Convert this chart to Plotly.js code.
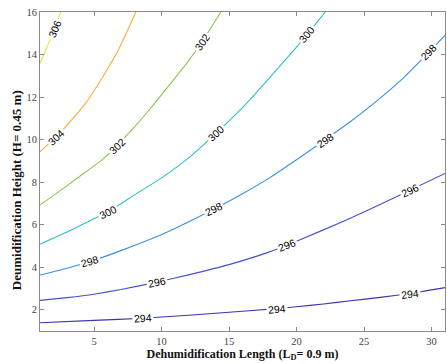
<!DOCTYPE html>
<html>
<head>
<meta charset="utf-8">
<script src="https://cdn.plot.ly/plotly-3.0.1.min.js"></script>
<style>html,body{margin:0;padding:0;background:#fff}#chart{width:447px;height:364px}</style>
</head>
<body>
<div id="chart"></div>
<script>
// Contour levels (temperature, K)
const levels = [294, 296, 298, 300, 302, 304, 306];

// Contour lines: L = dehumidification length, H = height
const L294 = [1, 5, 8.6, 12, 15, 18.5, 20, 22, 24, 26.2, 28.4, 31];
const H294 = [1.39, 1.50, 1.60, 1.74, 1.88, 2.05, 2.14, 2.27, 2.42, 2.58, 2.76, 3.04];

const L296 = [1, 3, 5, 7, 9.67, 12, 15, 18, 20, 23.7, 27.4, 31];
const H296 = [2.44, 2.57, 2.73, 2.95, 3.30, 3.64, 4.12, 4.72, 5.22, 6.22, 7.31, 8.41];

const L298 = [1, 3, 4.74, 7, 9.17, 11, 13.86, 16, 18, 20, 22.14, 24, 26.2, 28, 29.79, 31];
const H298 = [3.63, 3.95, 4.27, 4.78, 5.31, 5.82, 6.72, 7.45, 8.2, 9.05, 10.0, 10.85, 11.95, 12.95, 14.1, 14.9];

const L300 = [1, 3, 4.74, 6.04, 8, 10, 12.13, 14.05, 16, 18, 20, 20.79, 22.14];
const H300 = [5.08, 5.65, 6.2, 6.6, 7.4, 8.2, 9.2, 10.3, 11.5, 12.9, 14.35, 14.95, 16];

const L302 = [1, 2.5, 4, 5.6, 6.71, 8, 9.17, 10.5, 12, 13, 14.4];
const H302 = [6.92, 7.6, 8.3, 9.05, 9.72, 10.6, 11.45, 12.5, 13.7, 14.6, 16];

const L304 = [1, 2.2, 2.89, 4.37, 5.6, 6.83, 7.82, 8.1];
const H304 = [9.43, 10.13, 10.6, 11.7, 12.9, 14.25, 15.6, 16];

const L306 = [1, 1.55, 2.09, 2.3, 2.52];
const H306 = [13.59, 14.4, 15.2, 15.55, 16];

// Where the inline level labels sit (L positions)
const lab294 = [8.62, 18.54, 28.4];
const lab296 = [9.67, 19.28, 28.44];
const lab298 = [4.74, 13.86, 22.14, 29.79];
const lab300 = [6.04, 14.05, 20.79];
const lab302 = [6.71, 13.0];
const lab304 = [2.2];
const lab306 = [2.09];

// Axis ticks
const xTicks = [5, 10, 15, 20, 25, 30];
const yTicks = [2, 4, 6, 8, 10, 12, 14, 16];

const linesL = [L294, L296, L298, L300, L302, L304, L306];
const linesH = [H294, H296, H298, H300, H302, H304, H306];
const labels = [lab294, lab296, lab298, lab300, lab302, lab304, lab306];
const colors = ['#3a36a8', '#4a4fcc', '#3d8fe0', '#2fbfca', '#8bc84f', '#f7ae3e', '#ece43a'];

const xRange = [1, 31], yRange = [1, 16];
const W = 447, H = 364;
const margin = {l: 40, r: 2, t: 12, b: 33};
const pxX = (W - margin.l - margin.r) / (xRange[1] - xRange[0]);
const pxY = (H - margin.t - margin.b) / (yRange[1] - yRange[0]);

function interp(xs, ys, x) {
  for (let i = 0; i < xs.length - 1; i++) {
    if (x >= xs[i] && x <= xs[i + 1]) {
      const t = (x - xs[i]) / (xs[i + 1] - xs[i]);
      return {y: ys[i] + t * (ys[i + 1] - ys[i]), slope: (ys[i + 1] - ys[i]) / (xs[i + 1] - xs[i])};
    }
  }
  return {y: ys[ys.length - 1], slope: 0};
}

const traces = levels.map((lv, i) => ({
  type: 'scatter', mode: 'lines', name: String(lv),
  x: linesL[i], y: linesH[i],
  line: {color: colors[i], width: 1.1, shape: 'spline', smoothing: 0.4},
  hoverinfo: 'skip', showlegend: false
}));

const annotations = [];
levels.forEach((lv, i) => {
  labels[i].forEach(lx => {
    const r = interp(linesL[i], linesH[i], lx);
    const ang = -Math.atan(r.slope * pxY / pxX) * 180 / Math.PI;
    annotations.push({
      x: lx, y: r.y, xref: 'x', yref: 'y', text: String(lv), showarrow: false,
      textangle: ang, bgcolor: '#ffffff', borderpad: 1,
      font: {family: 'Liberation Sans, Arial, sans-serif', size: 10.5, color: '#000'}
    });
  });
});

annotations.push({
  xref: 'paper', yref: 'paper', x: -0.058, y: 0.44, xanchor: 'center', yanchor: 'middle',
  text: '<b>Deumidification Height (H= 0.45 m)</b>', textangle: -90, showarrow: false,
  font: {family: 'Liberation Serif, Times New Roman, serif', size: 13, color: '#111'}
});

const axisCommon = {
  showgrid: false, zeroline: false, showline: true, linecolor: '#8a8a8a', linewidth: 1,
  mirror: 'ticks', ticks: 'inside', ticklen: 4, tickcolor: '#8a8a8a', tickwidth: 1,
  tickfont: {family: 'Liberation Serif, Times New Roman, serif', size: 10.5, color: '#444'}
};

const layout = {
  width: W, height: H, margin: margin,
  paper_bgcolor: '#fff', plot_bgcolor: '#fff',
  xaxis: Object.assign({}, axisCommon, {
    range: xRange, tickvals: xTicks, ticktext: xTicks.map(String),
    title: {text: '<b>Dehumidification Length (L<sub>D</sub>= 0.9 m)</b>', standoff: 2,
      font: {family: 'Liberation Serif, Times New Roman, serif', size: 12, color: '#111'}}
  }),
  yaxis: Object.assign({}, axisCommon, {
    range: yRange, tickvals: yTicks, ticktext: yTicks.map(String)
  }),
  annotations: annotations,
  showlegend: false
};

Plotly.newPlot('chart', traces, layout, {staticPlot: true, displayModeBar: false});
</script>
</body>
</html>
